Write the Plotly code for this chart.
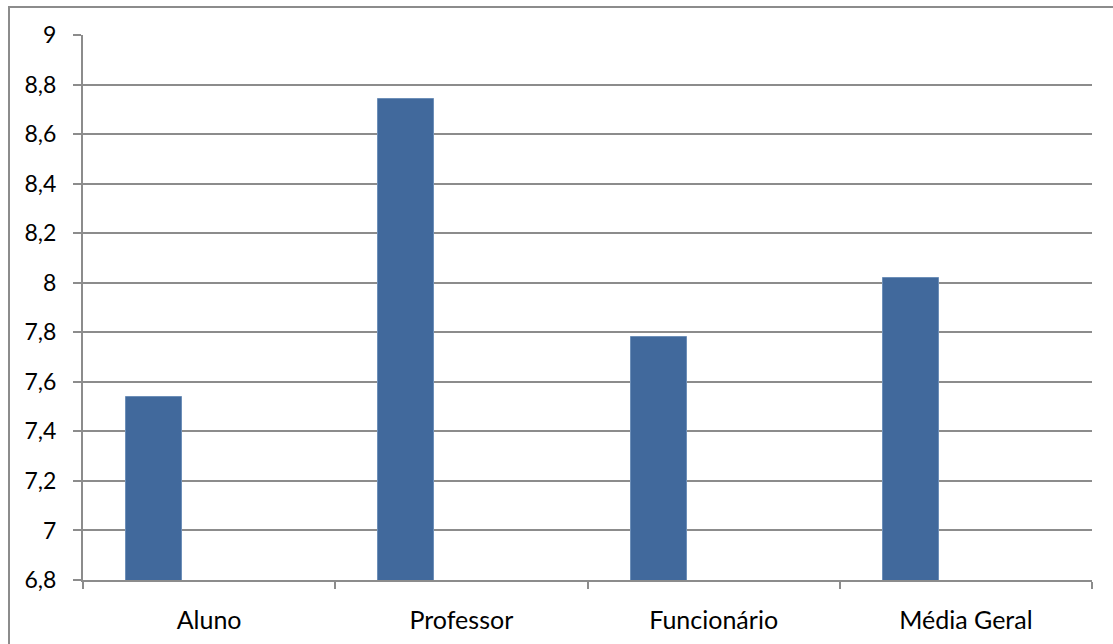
import plotly.graph_objects as go

categories = ["Aluno", "Professor", "Funcionário", "Média Geral"]
values = [7.54, 8.74, 7.78, 8.02]
y_ticks = [6.8, 7.0, 7.2, 7.4, 7.6, 7.8, 8.0, 8.2, 8.4, 8.6, 8.8, 9.0]

W, H = 1113, 644
ml, mr, mt, mb = 83, 21, 35, 64
pw = W - ml - mr
ph = H - mt - mb

fig = go.Figure()
fig.add_trace(go.Bar(
    x=categories, y=values,
    width=0.222, offset=-0.329,
    marker=dict(color="#41699C", line=dict(color="#6d8fb8", width=1)),
    showlegend=False,
))

font_family = "Lato, 'Open Sans', sans-serif"
fig.update_layout(
    width=W, height=H,
    margin=dict(l=ml, r=mr, t=mt, b=mb, autoexpand=False),
    paper_bgcolor="white", plot_bgcolor="white",
    separators=",.",
    font=dict(family=font_family, size=23, color="black"),
    bargap=0,
    xaxis=dict(
        type="category",
        automargin=False,
        tickson="boundaries",
        ticks="outside", ticklen=7, tickcolor="#8c8c8c", tickwidth=2,
        showline=True, linecolor="#8c8c8c", linewidth=2,
        showgrid=False,
        ticklabelstandoff=17,
        tickfont=dict(size=25),
        range=[-0.5, 3.5],
    ),
    yaxis=dict(
        range=[6.8, 9.0],
        automargin=False,
        tickvals=y_ticks,
        ticktext=[("%g" % v).replace(".", ",") for v in y_ticks],
        ticks="outside", ticklen=8, tickcolor="#8c8c8c", tickwidth=2,
        showline=True, linecolor="#8c8c8c", linewidth=2,
        showgrid=True, gridcolor="#8c8c8c", gridwidth=2,
        zeroline=False,
        ticklabelstandoff=12,
        tickfont=dict(size=23),
    ),
    shapes=[dict(
        type="rect", xref="paper", yref="paper",
        x0=(9 - ml) / pw, x1=(W + 20 - ml) / pw,
        y0=(-(mb + 20)) / ph, y1=1 + (mt - 7) / ph,
        line=dict(color="#8c8c8c", width=2), fillcolor="rgba(0,0,0,0)",
        layer="below",
    )],
)

fig.write_html("out.html")
